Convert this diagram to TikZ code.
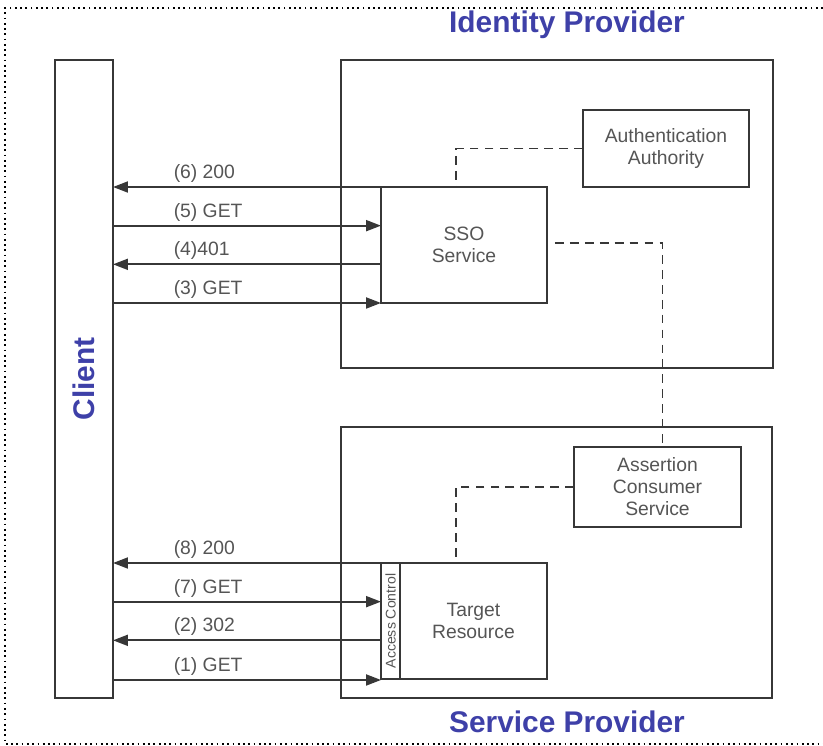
\documentclass[tikz,border=0pt]{standalone}
\usepackage{fontspec}
\setmainfont{Liberation Sans}
\usetikzlibrary{positioning, arrows.meta, calc}
\definecolor{titleblue}{RGB}{62,64,168}
\definecolor{linegray}{RGB}{55,55,55}
\definecolor{textgray}{RGB}{85,85,85}

\begin{document}
\begin{tikzpicture}[
    x=0.02cm, y=-0.02cm,
    >={Triangle[length=0.3cm, width=0.22cm]},
    box/.style={rectangle, draw=linegray, line width=1.1pt, outer sep=0pt, inner sep=0pt, align=center, text=textgray, font=\fontsize{11}{12.5}\selectfont},
    title/.style={text=titleblue, font=\fontsize{17}{19}\selectfont\bfseries},
    msg/.style={->, draw=linegray, line width=1.1pt},
    lbl/.style={anchor=south west, inner sep=2pt, text=textgray, font=\fontsize{11}{12.5}\selectfont},
    link/.style={draw=linegray, line width=0.9pt, dash pattern=on 5pt off 3.5pt}
]

\useasboundingbox (0,0) rectangle (823,746);

% Frame
\draw[dotted, line width=1pt] (823,8) -- (5,8) -- (5,744) -- (823,744);

% Client
\node[box, minimum width=1.16cm, minimum height=12.76cm] (client) at (84,379) {};
\node[title, rotate=90] (clientlbl) at (client) {Client};

% Identity Provider
\node[box, minimum width=8.64cm, minimum height=6.16cm] (idp) at (557,214) {};
\node[title] (idplbl) at (567,25) {Identity Provider};
\node[box, minimum width=3.32cm, minimum height=1.54cm] (auth) at (666,148.5) {Authentication\\Authority};
\node[box, minimum width=3.32cm, minimum height=2.32cm] (sso) at (464,245) {SSO\\Service};

% Service Provider
\node[box, minimum width=8.62cm, minimum height=5.42cm] (sp) at (556.5,562.5) {};
\node[title] (splbl) at (567,722) {Service Provider};
\node[box, minimum width=3.34cm, minimum height=1.6cm] (acs) at (657.5,487) {Assertion\\Consumer\\Service};
\node[box, minimum width=0.38cm, minimum height=2.32cm] (ac) at (390.5,621) {};
\node[rotate=90, inner sep=0pt, text=textgray, font=\fontsize{8}{9}\selectfont] (aclbl) at (ac) {Access Control};
\node[box, minimum width=2.94cm, minimum height=2.32cm, right=0cm of ac] (target) {Target\\Resource};

% Message levels
\coordinate (s6) at (sso.north west);
\coordinate (s5) at ($(sso.north west)!1/3!(sso.south west)$);
\coordinate (s4) at ($(sso.north west)!2/3!(sso.south west)$);
\coordinate (s3) at (sso.south west);
\coordinate (t8) at (ac.north west);
\coordinate (t7) at ($(ac.north west)!1/3!(ac.south west)$);
\coordinate (t2) at ($(ac.north west)!2/3!(ac.south west)$);
\coordinate (t1) at ($(ac.south west)+(0,1)$);

% Messages
\draw[msg] (s6) -- node[lbl, pos=0.79] {(6) 200} (s6 -| client.east);
\draw[msg] (s5 -| client.east) -- node[lbl, pos=0.21] {(5) GET} (s5);
\draw[msg] (s4) -- node[lbl, pos=0.79] {(4)401} (s4 -| client.east);
\draw[msg] (s3 -| client.east) -- node[lbl, pos=0.21] {(3) GET} (s3);
\draw[msg] (t8) -- node[lbl, pos=0.79] {(8) 200} (t8 -| client.east);
\draw[msg] (t7 -| client.east) -- node[lbl, pos=0.21] {(7) GET} (t7);
\draw[msg] (t2) -- node[lbl, pos=0.79] {(2) 302} (t2 -| client.east);
\draw[msg] (t1 -| client.east) -- node[lbl, pos=0.21] {(1) GET} (t1);

% Trust links
\draw[link] (auth.west) -| ($(sso.north)+(-8,0)$);
\draw[link] ($(sso.east)+(8,-2)$) -| ($(acs.north)+(5,0)$);
\draw[link] (acs.west) -| ($(target.north)+(-17.5,0)$);

\end{tikzpicture}
\end{document}
